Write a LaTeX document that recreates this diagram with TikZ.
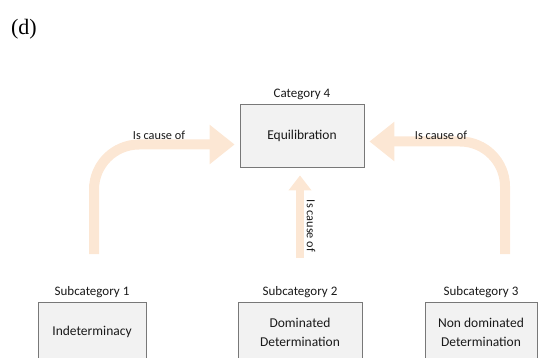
\documentclass[tikz,border=0pt]{standalone}
\usepackage{fontspec}
\setmainfont{Carlito}
\newfontfamily\timesfont{Liberation Serif}
\usetikzlibrary{positioning,arrows.meta}

\definecolor{boxfill}{RGB}{242,242,242}
\definecolor{boxline}{RGB}{120,120,120}
\definecolor{peach}{RGB}{252,231,212}

\tikzset{
  catbox/.style={draw=boxline, fill=boxfill, line width=0.8pt, align=center,
    font=\fontsize{13.5}{19}\selectfont, text=black!90, inner sep=2pt},
  cattitle/.style={font=\fontsize{13}{15}\selectfont, text=black!90, inner sep=1pt},
  causearrow/.style={draw=peach, line width=10pt,
    -{Triangle[width=38pt,length=25pt]}, rounded corners=45pt},
  causelabel/.style={font=\fontsize{12.3}{14}\selectfont, text=black!90}
}

\begin{document}
\begin{tikzpicture}[x=1pt,y=-1pt]
  \useasboundingbox (0,0) rectangle (540,358);

  \node[font=\timesfont\fontsize{22}{24}\selectfont] (tag) at (24,29) {(d)};

  % top category
  \node[catbox, minimum width=124pt, minimum height=63pt] (equil) at (302,135.5) {Equilibration};
  \node[cattitle, above=3pt of equil] (cat4) {Category 4};

  % subcategories
  \node[catbox, minimum width=108pt, minimum height=60pt] (indet) at (92,332) {Indeterminacy};
  \node[catbox, minimum width=124pt, minimum height=60pt] (domdet) at (300,332) {Dominated\\Determination};
  \node[catbox, minimum width=112pt, minimum height=60pt] (nondet) at (481,332) {Non dominated\\Determination};
  \node[cattitle, above=3pt of indet] (sub1) {Subcategory 1};
  \node[cattitle, above=3pt of domdet] (sub2) {Subcategory 2};
  \node[cattitle, above=3pt of nondet] (sub3) {Subcategory 3};

  % cause arrows
  \coordinate (lstart) at (94,254);
  \coordinate (mstart) at (300,258);
  \coordinate (rstart) at (505,254);
  \draw[causearrow] (lstart) |- ([xshift=-5pt,yshift=-9pt]equil.west);
  \draw[causearrow] (rstart) |- ([xshift=5pt,yshift=-6pt]equil.east);
  \draw[draw=peach, line width=8pt, -{Triangle[width=22pt,length=15pt]}]
    (mstart) -- ([yshift=-8pt]equil.south -| mstart);

  \node[causelabel] (lcause) at (159,135) {Is cause of};
  \node[causelabel] (rcause) at (441,135) {Is cause of};
  \node[causelabel, rotate=-90] (mcause) at (311,226) {Is cause of};
\end{tikzpicture}
\end{document}
